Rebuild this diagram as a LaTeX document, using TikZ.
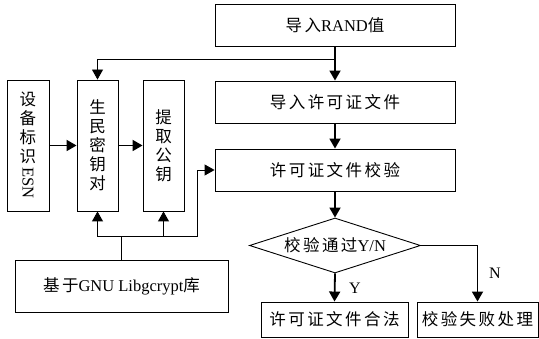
\documentclass[tikz,border=0pt]{standalone}
\usepackage{fontspec}
\setmainfont{Liberation Serif}
\newfontfamily\cjk[LetterSpace=15]{Noto Sans CJK SC}
\usetikzlibrary{arrows.meta,shapes.geometric}
\newcommand\zh[1]{{\cjk #1}}
\begin{document}
\begin{tikzpicture}[x=1pt,y=-1pt,
  box/.style={draw,line width=0.9pt,inner sep=0pt,align=center,font=\fontsize{16.5}{19}\selectfont},
  thk/.style={line width=1.8pt,-{Triangle[length=10pt,width=11pt]}},
  thn/.style={line width=0.9pt},
  thnarrow/.style={line width=0.9pt,-{Triangle[length=10pt,width=11pt]}},
  lab/.style={inner sep=0pt,font=\fontsize{16}{18}\selectfont}]
\useasboundingbox (0,0) rectangle (539,339);
% right column
\node[box,minimum width=240pt,minimum height=42pt] (rand) at (335,25) {\zh{导入}RAND\zh{值}};
\node[box,minimum width=240pt,minimum height=42pt] (lic) at (335,102) {\zh{导入许可证文件}};
\node[box,minimum width=240pt,minimum height=42pt] (ver) at (335,170) {\zh{许可证文件校验}};
\node[box,diamond,aspect=3.1,minimum width=171pt,minimum height=55pt] (dia) at (335,245.5) {\zh{校验通过}Y/N};
\node[box,minimum width=147pt,minimum height=35pt] (legal) at (334.5,319.5) {\zh{许可证文件合法}};
\node[box,minimum width=121pt,minimum height=35pt] (fail) at (477.5,319.5) {\zh{校验失败处理}};
% left column
\node[box,minimum width=42pt,minimum height=131pt] (esn) at (28,145.5) {\zh{设}\\\zh{备}\\\zh{标}\\\zh{识}\\[-14pt]\rotatebox{-90}{ESN}};
\node[box,minimum width=41pt,minimum height=131pt] (kp) at (97.5,145.5) {\zh{生}\\\zh{民}\\\zh{密}\\\zh{钥}\\\zh{对}};
\node[box,minimum width=41pt,minimum height=131pt] (pk) at (163.5,145.5) {\zh{提}\\\zh{取}\\\zh{公}\\\zh{钥}};
\node[box,minimum width=213pt,minimum height=52pt] (gnu) at (121.5,286) {\zh{基于}GNU Libgcrypt\zh{库}};
% labels
\node[lab] (ylab) at (355,288) {Y};
\node[lab] (nlab) at (495,273) {N};
% connectors
\coordinate (j1) at (335,59);
\coordinate (j2) at (121.5,236);
\coordinate (bend) at (197,236);
\draw[thk] (rand) -- (lic);
\draw[thk] (lic) -- (ver);
\draw[thk] (ver) -- (dia);
\draw[thk] (dia.south) -- (legal.north);
\draw[thn] (dia.east) -- (dia.east -| fail.north);
\draw[thk] (dia.east -| fail.north) -- (fail.north);
\draw[thnarrow] (j1) -| (kp.north);
\draw[thk] (esn) -- (kp);
\draw[thk] (kp) -- (pk);
\draw[thn] (gnu.north) -- (j2);
\draw[thnarrow] (j2) -| (kp.south);
\draw[thnarrow] (j2) -| (pk.south);
\draw[thnarrow] (j2) -- (bend) |- (ver.west);
\end{tikzpicture}
\end{document}
